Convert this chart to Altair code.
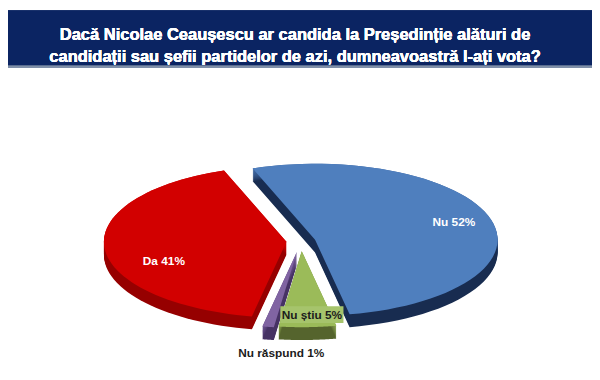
import altair as alt
import pandas as pd

# ---- data ----
categories = ["Nu", "Nu știu", "Nu răspund", "Da"]
values = [52, 5, 1, 41]
labels = ["Nu 52%", "Nu știu 5%", "Nu răspund 1%", "Da 41%"]
title_lines = [
    "Dacă Nicolae Ceaușescu ar candida la Președinție alături de",
    "candidații sau șefii partidelor de azi, dumneavoastră l-ați vota?",
]

# ---- styles ----
top_color = {"Nu": "#4f7fbe", "Nu știu": "#9bbb59", "Nu răspund": "#8064a2", "Da": "#d20000"}
wall_hi = {"Nu": (62, 102, 160), "Nu știu": (130, 155, 75), "Nu răspund": (105, 80, 140), "Da": (208, 0, 0)}
wall_lo = {"Nu": (24, 44, 80), "Nu știu": (85, 100, 45), "Nu răspund": (70, 50, 100), "Da": (150, 0, 0)}
explode = {"Nu": 0.08, "Nu știu": 0.13, "Nu răspund": 0.14, "Da": 0.08}

CX, CY, RX, RY = 305, 242, 185, 77
DEPTH = 13
TH0 = -20.0 * 3.14159265 / 180
N = 60

df = pd.DataFrame({
    "cat": categories,
    "value": values,
    "label": labels,
    "order": list(range(len(categories))),
    "explode": [explode[c] for c in categories],
    "top": [top_color[c] for c in categories],
    "hr": [wall_hi[c][0] for c in categories],
    "hg": [wall_hi[c][1] for c in categories],
    "hb": [wall_hi[c][2] for c in categories],
    "lr": [wall_lo[c][0] for c in categories],
    "lg": [wall_lo[c][1] for c in categories],
    "lb": [wall_lo[c][2] for c in categories],
})

xs = alt.Scale(domain=[8, 600], range=[0, 592])
ys = alt.Scale(domain=[8, 380], range=[0, 372])


def base():
    return (
        alt.Chart(df)
        .transform_window(cum="sum(value)", sort=[alt.SortField("order")], frame=[None, 0])
        .transform_joinaggregate(total="sum(value)")
        .transform_calculate(
            a0=f"{TH0} + 2*PI*(datum.cum - datum.value)/datum.total",
            a1=f"{TH0} + 2*PI*datum.cum/datum.total",
        )
        .transform_calculate(mid="(datum.a0 + datum.a1)/2")
        .transform_calculate(
            ox=f"datum.explode*{RX}*sin(datum.mid)",
            oy=f"-datum.explode*{RY}*cos(datum.mid)",
        )
    )


def polygon(b):
    return (
        b.transform_calculate(steps=f"sequence(0, {N + 3})")
        .transform_flatten(["steps"], as_=["k"])
        .transform_calculate(ang=f"datum.a0 + (datum.a1 - datum.a0)*(datum.k - 1)/{N}")
        .transform_calculate(
            px=f"(datum.k == 0 || datum.k == {N + 2}) ? {CX} + datum.ox : {CX} + datum.ox + {RX}*sin(datum.ang)",
            py0=f"(datum.k == 0 || datum.k == {N + 2}) ? {CY} + datum.oy : {CY} + datum.oy - {RY}*cos(datum.ang)",
        )
    )


def slice_layers(cat):
    b = base().transform_filter(alt.datum.cat == cat)
    wall = (
        polygon(b)
        .transform_calculate(levels=f"sequence(0, {DEPTH + 1})")
        .transform_flatten(["levels"], as_=["lv"])
        .transform_calculate(
            py="datum.py0 + datum.lv",
            t=f"pow(datum.lv / {DEPTH}, 2)",
        )
        .transform_calculate(
            wc="'rgb(' + round(datum.hr + (datum.lr - datum.hr)*datum.t) + ',' + round(datum.hg + (datum.lg - datum.hg)*datum.t) + ',' + round(datum.hb + (datum.lb - datum.hb)*datum.t) + ')'"
        )
        .transform_calculate(lvs=f"{DEPTH} - datum.lv")
        .mark_line(filled=True, interpolate="linear")
        .encode(
            x=alt.X("px:Q", scale=xs, axis=None),
            y=alt.Y("py:Q", scale=ys, axis=None),
            detail="lvs:Q",
            order=alt.Order("k:Q"),
            color=alt.Color("wc:N", scale=None),
        )
    )
    top = (
        polygon(b)
        .mark_line(filled=True, interpolate="linear")
        .encode(
            x=alt.X("px:Q", scale=xs, axis=None),
            y=alt.Y("py0:Q", scale=ys, axis=None),
            order=alt.Order("k:Q"),
            color=alt.Color("top:N", scale=None),
        )
    )
    return [wall, top]


def label_pos(cat, f, dx, dy):
    return (
        base()
        .transform_filter(alt.datum.cat == cat)
        .transform_calculate(
            lx=f"{CX} + datum.ox + {RX}*{f}*sin(datum.mid) + {dx}",
            ly=f"{CY} + datum.oy - {RY}*{f}*cos(datum.mid) + {dy}",
        )
    )


def label_layer(cat, f, dx, dy, color):
    return (
        label_pos(cat, f, dx, dy)
        .mark_text(font="Liberation Sans", fontWeight="bold", fontSize=12, color=color,
                   align="center", baseline="middle")
        .encode(
            x=alt.X("lx:Q", scale=xs, axis=None),
            y=alt.Y("ly:Q", scale=ys, axis=None),
            text="label:N",
        )
    )


def label_box(cat, f, dx, dy, w, h, color):
    return (
        label_pos(cat, f, dx, dy)
        .transform_calculate(
            bx0=f"datum.lx - {w / 2}", bx1=f"datum.lx + {w / 2}",
            by0=f"datum.ly - {h / 2}", by1=f"datum.ly + {h / 2}",
        )
        .mark_rect(color=color)
        .encode(
            x=alt.X("bx0:Q", scale=xs, axis=None),
            x2="bx1:Q",
            y=alt.Y("by0:Q", scale=ys, axis=None),
            y2="by1:Q",
        )
    )


header = alt.Chart(df).mark_rect(color="#0b2462").encode(
    x=alt.value(0), x2=alt.value(592), y=alt.value(0), y2=alt.value(56)
)
header_line = alt.Chart(df).mark_rect(color="#7f8fa8").encode(
    x=alt.value(0), x2=alt.value(592), y=alt.value(56), y2=alt.value(58)
)
title = alt.Chart(df).mark_text(
    text=title_lines, font="Liberation Sans", fontWeight="bold", fontSize=16.7,
    color="white", align="center", baseline="middle", lineHeight=22,
).encode(x=alt.value(291), y=alt.value(25))

layers = [header, header_line, title]
for c in ["Da", "Nu", "Nu răspund", "Nu știu"]:
    layers += slice_layers(c)

layers += [
    label_box("Nu știu", 0.9, 5, -5, 64, 17, "#a6c46c"),
    label_layer("Nu", 0.75, 7, -3, "white"),
    label_layer("Da", 0.69, 3, 15, "white"),
    label_layer("Nu știu", 0.9, 5, -5, "#1c1c1c"),
    label_layer("Nu răspund", 1.4, 25, -4, "#1c1c1c"),
]

chart = (
    alt.layer(*layers)
    .properties(width=592, height=372, padding=0, autosize="none", background="white")
    .configure_view(stroke=None)
)

chart.save("out.html", embed_options={"renderer": "svg", "actions": False})
